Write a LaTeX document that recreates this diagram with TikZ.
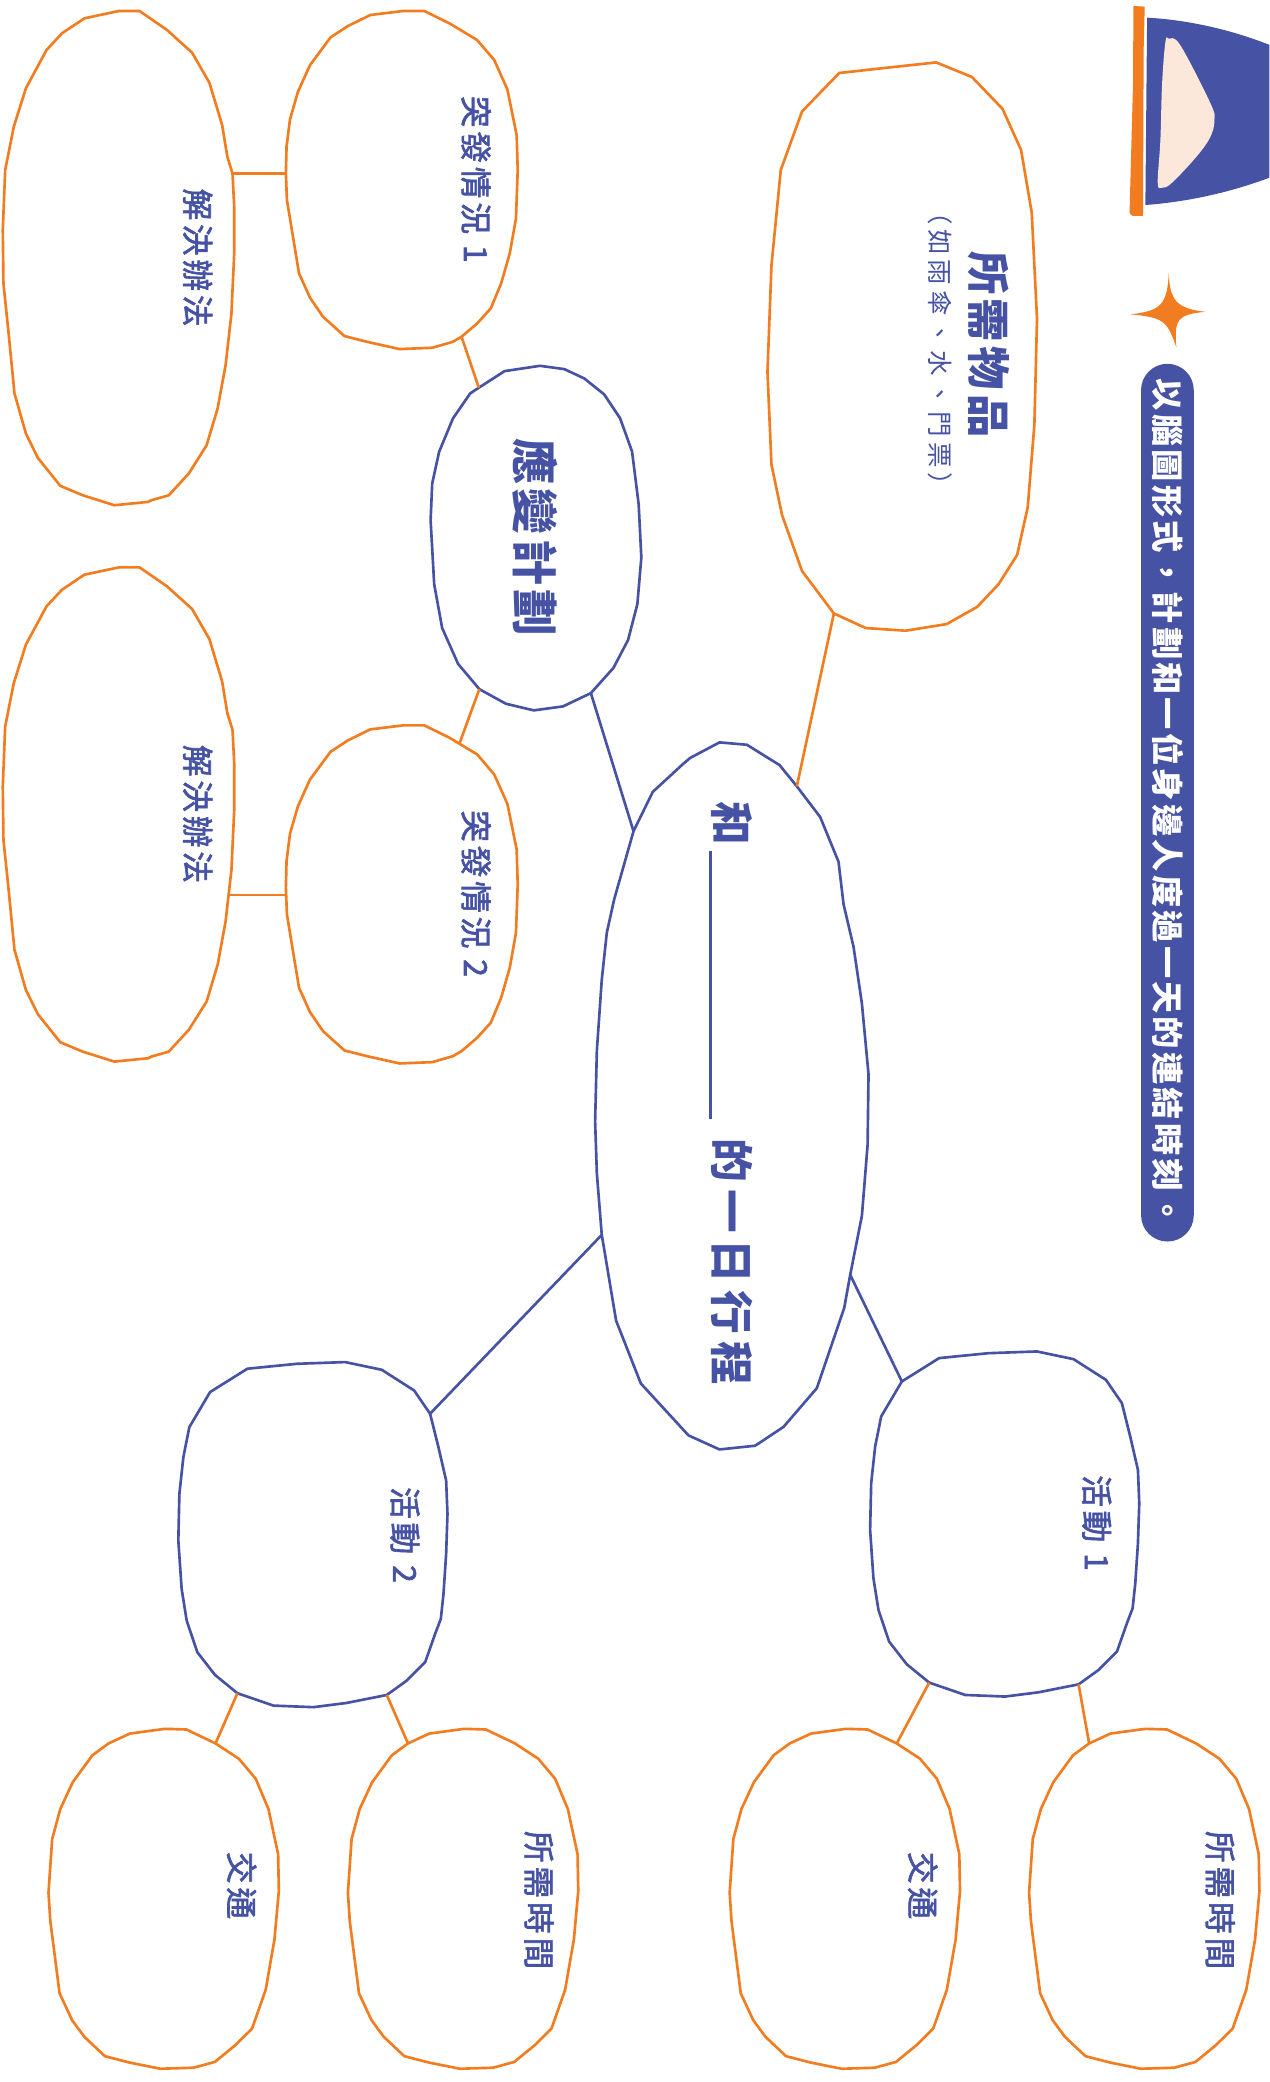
\documentclass[tikz,border=0pt]{standalone}
\usepackage{fontspec}
\newfontfamily\cjk{Noto Sans CJK TC}
\newfontfamily\cjkmed{Noto Sans CJK TC}[FakeBold=2]
\definecolor{inkblue}{HTML}{4652A3}
\definecolor{inkorange}{HTML}{F27D20}
\definecolor{peach}{HTML}{FCE7DB}

% outline of an answer bubble (solution)
\newcommand\solutionshape{(89.5,8.3) -- (105.1,8.3) -- (125.8,22.6) -- (144.7,39.7) -- (157.7,62.3) -- (167.3,94.2) -- (171.2,118) -- (175.1,130.6) -- (176.4,155.7) -- (176.4,190.9) -- (174.3,236.1) -- (169.9,275) -- (163.9,307.6) -- (155.6,335.3) -- (142.2,356.6) -- (127.1,373) -- (114.1,376.7) -- (111.5,378) -- (86.1,380.5) -- (62.3,373) -- (45.4,365.9) -- (28.5,344.8) -- (19.5,326.5) -- (10.9,296.3) -- (6.5,251.1) -- (2.6,213.5) -- (2.1,173.3) -- (3.9,128.1) -- (10.4,95.4) -- (19.5,66.5) -- (35,37.7) -- (46.7,25.1) -- (63.6,13.8) -- cycle}
% outline of an incident bubble
\newcommand\incidentshape{(303.5,8.3) -- (319.6,8.3) -- (338.5,17.6) -- (359.3,30.1) -- (372.2,45.2) -- (382.1,67.3) -- (389.1,101.7) -- (389.9,128.1) -- (388.6,164.5) -- (383.9,190.9) -- (377.4,213.5) -- (369.6,232.3) -- (359.3,243.6) -- (347.6,253.6) -- (341.1,257.4) -- (325.6,261.9) -- (300.9,262.9) -- (276.3,257.4) -- (259.4,253.1) -- (243.3,238.6) -- (233.5,224.3) -- (225.2,205.9) -- (216.1,150.7) -- (215.3,130.6) -- (215.8,110.5) -- (218.4,89.9) -- (224.4,69.1) -- (233.5,49) -- (249,28.1) -- (262,19.6) -- (278.9,11.3) -- cycle}
% outline of an activity bubble
\newcommand\activityshape{(259.9,1025.8) -- (287.5,1031.6) -- (311.9,1047.2) -- (323.9,1064.7) -- (330.2,1089.9) -- (336,1115) -- (337,1140.1) -- (336,1170.2) -- (334,1200.4) -- (332,1219.2) -- (327.7,1230.5) -- (320.2,1251.8) -- (306.3,1265.7) -- (291.3,1276.5) -- (261.1,1282.5) -- (236,1285.7) -- (205.9,1284.5) -- (178.8,1275.2) -- (161.9,1261.4) -- (148.6,1244.3) -- (140.6,1220.5) -- (136.8,1196.6) -- (134.3,1160.2) -- (135.1,1125) -- (138.1,1097.4) -- (142.6,1074.8) -- (158.2,1048.4) -- (186.3,1030.8) -- (223.5,1027.1) -- cycle}
% outline of a detail bubble, in a unit box
\newcommand\leafshape{(0.600,0.002) -- (0.507,0) -- (0.355,0.014) -- (0.263,0.043) -- (0.193,0.078) -- (0.108,0.157) -- (0.054,0.236) -- (0.019,0.324) -- (0.003,0.482) -- (0.011,0.566) -- (0.051,0.778) -- (0.105,0.857) -- (0.158,0.906) -- (0.247,0.963) -- (0.355,0.982) -- (0.487,1) -- (0.631,0.997) -- (0.723,0.980) -- (0.811,0.931) -- (0.884,0.882) -- (0.943,0.768) -- (0.981,0.620) -- (1,0.477) -- (0.997,0.369) -- (0.955,0.236) -- (0.900,0.147) -- (0.827,0.088) -- (0.726,0.043) -- cycle}

\tikzset{
  blueblob/.style={draw=inkblue, line width=1.5pt, line join=round},
  orangeblob/.style={draw=inkorange, line width=1.5pt, line join=round},
  blueline/.style={draw=inkblue, line width=1.5pt},
  orangeline/.style={draw=inkorange, line width=1.5pt},
  vtext/.style={rotate=-90, inner sep=0pt, text=inkblue},
  labeltext/.style={vtext, font=\cjkmed\fontsize{18}{20}\selectfont\addfontfeature{LetterSpace=12}},
  headtext/.style={vtext, font=\cjk\bfseries\fontsize{24.6}{26}\selectfont\addfontfeature{LetterSpace=10}},
  notetext/.style={vtext, font=\cjk\fontsize{14.5}{16}\selectfont\addfontfeature{LetterSpace=19}},
  banner/.style={rotate=-90, fill=inkblue, text=white, inner sep=0pt,
    rounded corners=0.526cm, minimum width=17.52cm, minimum height=1.052cm,
    font=\cjk\bfseries\fontsize{18.3}{20}\selectfont\addfontfeature{LetterSpace=10}},
}

\begin{document}
\begin{tikzpicture}[x=0.0265cm, y=-0.0265cm]
\useasboundingbox (0,0) rectangle (956,1568);
\fill[white] (0,0) rectangle (956,1568);

% corner ornament
\begin{scope}
  \clip (0,0) rectangle (956,1568);
  \fill[inkblue] (863.9,13.3) .. controls (895,15) and (935,23) .. (975,42)
     -- (975,126) .. controls (935,144) and (895,152) .. (862.6,154.4) -- cycle;
  \fill[peach] plot[smooth cycle, tension=0.6] coordinates {(880.2,29.1) (889,34.2) (911.6,77.8) (914.6,90.4) (911.6,103) (901.5,117.5) (882.7,137.6) (875.2,141.4) (871.9,137.6) (873.9,105.5) (875.2,62.8) (877.7,31.6)};
\end{scope}
\fill[inkorange] (853.6,4.5) -- (862.1,5) -- (861.3,37.7) -- (860.8,162.7) -- (853,162.5)
   .. controls (850.5,161) .. (850.8,155.7) -- (853.3,62.8) -- cycle;
% sparkle
\fill[inkorange] (880.2,205.9) .. controls (881,226) and (886,232.5) .. (907.8,234.8)
   .. controls (887,237) and (884,240) .. (886,261.7)
   .. controls (879,242) and (877,239) .. (851.3,236.8)
   .. controls (874,234) and (879,230) .. (880.2,205.9) -- cycle;

% title banner
\node[banner] (banner) at (879.2,604.5) {以腦圖形式，計劃和一位身邊人度過一天的連結時刻。};

% bubbles
\draw[blueblob] (541.9,559.1) -- (562.5,560.9) -- (587.1,576.2) -- (600.1,592.2) coordinate (cItems)
  -- (617.7,615.3) -- (631.5,649) -- (635.3,681) -- (642.8,713) -- (649.1,755.7) -- (654.1,809)
  -- (653.4,862.3) -- (649.1,915.7) -- (640.3,960.1) coordinate (cActA) -- (635.8,985)
  -- (615.2,1045.4) -- (590.1,1074.6) -- (568.7,1088.8) -- (541.9,1091.6) -- (518.5,1081)
  -- (482.6,1041.9) -- (464,994.6) -- (453.2,930) coordinate (cActB) -- (449.5,883.7)
  -- (448.2,844.6) -- (449.5,791.2) -- (453.2,737.9) -- (457,702.4) -- (462.5,677.5)
  -- (477.1,626) coordinate (cPlan) -- (491.6,596.4) -- (514.7,575.1) -- (519.8,570.8) -- cycle;

\draw[orangeblob] (632,55) -- (604,84) -- (588,128) -- (581,200) -- (578,280) -- (581,350)
  -- (589,388) -- (604,430) -- (628,462) coordinate (iCore) -- (652,473) -- (682,475) -- (713,470)
  -- (736,457) -- (752,440) -- (766,418) -- (774,382) -- (779,320) -- (781,240) -- (777,160)
  -- (769,113) -- (755,82) -- (732,58) -- (705,47) -- (668,51) -- cycle;

\draw[blueblob] (406.7,275.5) -- (425,278) -- (440,285) -- (455,297) -- (467,315) -- (476,340)
  -- (481,380) -- (483,420) -- (480,455) -- (473,482) -- (462,503) -- (445,522) coordinate (pCore)
  -- (424,532) -- (402,535) -- (381,530) -- (361,519) coordinate (pInc2) -- (345,500) -- (333,473)
  -- (327,440) -- (324.3,391.8) -- (325.5,364.1) -- (330.7,340.3) -- (341.1,315.2) -- (354.1,296.3)
  -- (360.6,292) coordinate (pInc1) -- (380,279.5) -- cycle;

\draw[orangeblob] \incidentshape;
\draw[orangeblob, shift={(0,538)}] \incidentshape;
\draw[orangeblob] \solutionshape;
\draw[orangeblob, shift={(0,419)}] \solutionshape;

\draw[blueblob] \activityshape;
\draw[blueblob, shift={(521,-8)}] \activityshape;

\begin{scope}[shift={(36,1302)}, xscale=174, yscale=256]
  \draw[orangeblob] \leafshape; \coordinate (leafA) at (0.726,0.043);
\end{scope}
\begin{scope}[shift={(261.5,1302)}, xscale=174, yscale=256]
  \draw[orangeblob] \leafshape; \coordinate (leafB) at (0.263,0.043);
\end{scope}
\begin{scope}[shift={(549,1302)}, xscale=174, yscale=256]
  \draw[orangeblob] \leafshape; \coordinate (leafC) at (0.726,0.043);
\end{scope}
\begin{scope}[shift={(774.5,1302)}, xscale=174, yscale=256]
  \draw[orangeblob] \leafshape; \coordinate (leafD) at (0.263,0.043);
\end{scope}

% connection points on the bubbles
\coordinate (inc1Plan) at (347.6,253.6);
\coordinate (inc2Plan) at (346,560.1);
\coordinate (inc1Sol) at (215.3,130.6);
\coordinate (sol1Inc) at (175.1,130.6);
\coordinate (inc2Sol) at (215.5,674);
\coordinate (sol2Inc) at (172.2,674);
\coordinate (actBCore) at (323.9,1064.7);
\coordinate (actBLeafA) at (178.8,1275.2);
\coordinate (actBLeafB) at (291.3,1276.5);
\coordinate (actACore) at (679.2,1040.4);
\coordinate (actALeafC) at (699.8,1267.2);
\coordinate (actALeafD) at (812.3,1268.5);

% connectors
\draw[orangeline] (cItems) -- (iCore);
\draw[blueline] (cPlan) -- (pCore);
\draw[blueline] (cActA) -- (actACore);
\draw[blueline] (cActB) -- (actBCore);
\draw[orangeline] (pInc1) -- (inc1Plan);
\draw[orangeline] (pInc2) -- (inc2Plan);
\draw[orangeline] (inc1Sol) -- (sol1Inc);
\draw[orangeline] (inc2Sol) -- (sol2Inc);
\draw[orangeline] (actBLeafA) -- (leafA);
\draw[orangeline] (actBLeafB) -- (leafB);
\draw[orangeline] (actALeafC) -- (leafC);
\draw[orangeline] (actALeafD) -- (leafD);

% texts
\node[vtext, anchor=base west, font=\cjk\bfseries\fontsize{24.8}{26}\selectfont\addfontfeature{LetterSpace=16}]
  (dayplan) at (538.5,603) {和\hspace{0.15em}\rule[-0.14em]{152pt}{1.5pt}\hspace{0.45em}的一日行程};
\node[headtext, font=\cjk\bfseries\fontsize{26.3}{28}\selectfont\addfontfeature{LetterSpace=9}] (plan) at (403.4,404.5) {應變計劃};
\node[headtext] (items) at (744.7,259.3) {所需物品};
\node[notetext] (itemsnote) at (708,262.5) {（如雨傘、水、門票）};
\node[labeltext] (inc1) at (358.5,135) {突發情況 1};
\node[labeltext] (inc2) at (358.5,673) {突發情況 2};
\node[labeltext] (sol1) at (148.9,194) {解決辦法};
\node[labeltext] (sol2) at (148.9,613) {解決辦法};
\node[labeltext] (actA) at (826,1147) {活動 1};
\node[labeltext] (actB) at (305,1156) {活動 2};
\node[labeltext] (trafA) at (182,1420) {交通};
\node[labeltext] (timeA) at (406,1431) {所需時間};
\node[labeltext] (trafB) at (695,1420) {交通};
\node[labeltext] (timeB) at (919,1431) {所需時間};
\end{tikzpicture}
\end{document}
